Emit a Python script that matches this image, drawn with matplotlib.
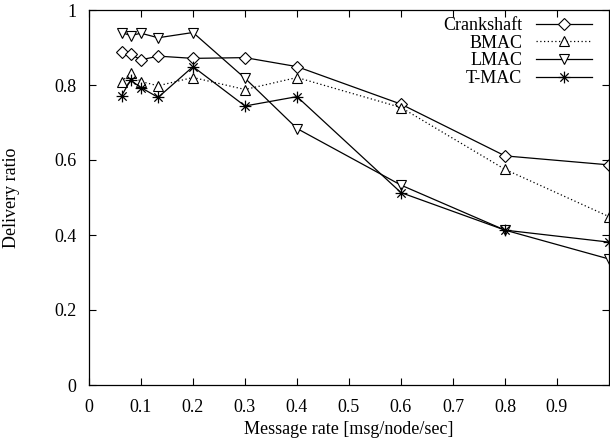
import matplotlib
matplotlib.use("Agg")
import matplotlib.pyplot as plt
from matplotlib.path import Path
import numpy as np

plt.rcParams['font.family'] = ['Liberation Serif', 'DejaVu Serif']
plt.rcParams['mathtext.fontset'] = 'stix'

rates = [0.0625, 0.08, 0.1, 0.133, 0.2, 0.3, 0.4, 0.6, 0.8, 1.0]
crankshaft = [0.887, 0.882, 0.867, 0.877, 0.871, 0.873, 0.849, 0.749, 0.611, 0.587]
bmac = [0.809, 0.831, 0.809, 0.798, 0.820, 0.788, 0.820, 0.740, 0.575, 0.449]
lmac = [0.940, 0.932, 0.938, 0.926, 0.940, 0.818, 0.684, 0.533, 0.413, 0.336]
tmac = [0.771, 0.813, 0.793, 0.767, 0.849, 0.744, 0.769, 0.513, 0.413, 0.381]

xticks = [0, 0.1, 0.2, 0.3, 0.4, 0.5, 0.6, 0.7, 0.8, 0.9]
xticklabels = ['0', '0.1', '0.2', '0.3', '0.4', '0.5', '0.6', '0.7', '0.8', '0.9']
yticks = [0, 0.2, 0.4, 0.6, 0.8, 1.0]
yticklabels = ['0', '0.2', '0.4', '0.6', '0.8', '1']

# asterisk marker: + overlaid with x
d = 0.7071
verts = [(-1, 0), (1, 0), (0, -1), (0, 1), (-d, -d), (d, d), (-d, d), (d, -d)]
codes = [Path.MOVETO, Path.LINETO] * 4
star = Path(verts, codes)

fs = 13

fig = plt.figure(figsize=(6.1, 4.43), dpi=100)
ax = fig.add_axes([89/610, 58/443, 520/610, 375/443])

lw = 0.9
ax.plot(rates, crankshaft, '-', color='black', lw=lw, marker='D', ms=5.8,
        mfc='white', mec='black', mew=0.8, label='Crankshaft')
ax.plot(rates, bmac, linestyle=(0, (1.0, 2.0)), color='black', lw=lw, marker='^', ms=7,
        mfc='white', mec='black', mew=0.8, label='BMAC')
ax.plot(rates, lmac, '-', color='black', lw=lw, marker='v', ms=7,
        mfc='white', mec='black', mew=0.8, label='LMAC')
ax.plot(rates, tmac, '-', color='black', lw=lw, marker=star, ms=8.5,
        mfc='none', mec='black', mew=0.9, label='T-MAC')

ax.set_xlim(0, 1.0)
ax.set_ylim(0, 1.0)
ax.set_xticks(xticks)
ax.set_xticklabels(xticklabels)
ax.set_yticks(yticks)
ax.set_yticklabels(yticklabels)
ax.tick_params(direction='in', top=True, right=True, length=5, width=0.8,
               labelsize=fs)
ax.tick_params(axis='x', pad=10)
ax.tick_params(axis='y', pad=9)
for s in ax.spines.values():
    s.set_linewidth(0.9)

ax.set_xlabel('Message rate [msg/node/sec]', fontsize=fs, labelpad=4)
ax.set_ylabel('Delivery ratio', fontsize=fs, labelpad=25)

leg = ax.legend(loc='upper right', frameon=False, markerfirst=False,
                fontsize=fs, handlelength=3.1, handletextpad=0.75,
                labelspacing=0.04, borderaxespad=0.0, bbox_to_anchor=(0.981, 1.001))

fig.savefig('out.png', dpi=100)
